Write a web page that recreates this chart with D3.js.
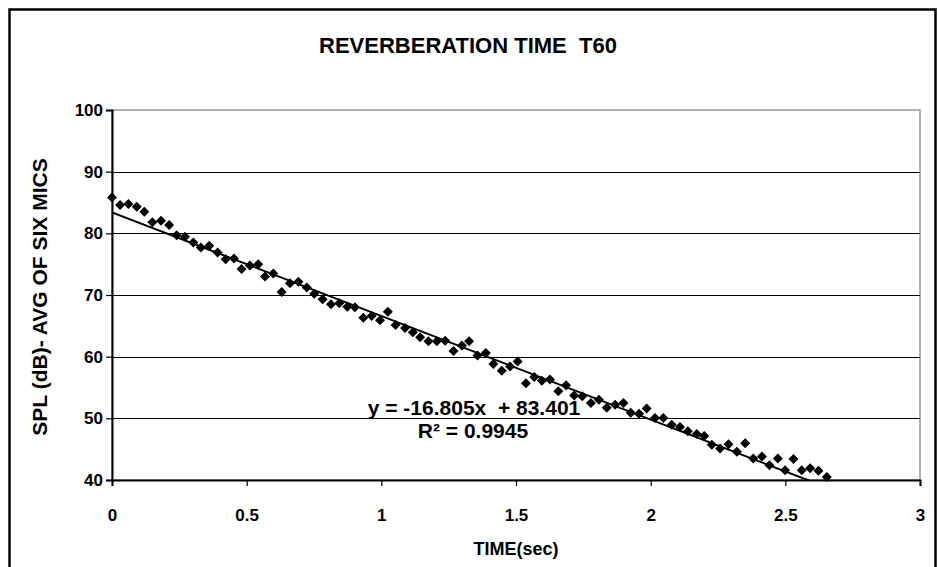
<!DOCTYPE html>
<html>
<head>
<meta charset="utf-8">
<script src="https://cdn.jsdelivr.net/npm/d3@7"></script>
<style>
  body { margin: 0; background: #fff; }
  text { font-family: "Liberation Sans", Arial, sans-serif; font-weight: bold; fill: #000; }
</style>
</head>
<body>
<div id="chart"></div>
<script>
// reverberation decay
const times = [
  0.000, 0.030, 0.061, 0.092, 0.120, 0.150, 0.182, 0.212, 0.240, 0.271,
  0.302, 0.330, 0.361, 0.392, 0.422, 0.453, 0.481, 0.512, 0.543, 0.568,
  0.599, 0.630, 0.661, 0.692, 0.723, 0.751, 0.782, 0.813, 0.844, 0.874,
  0.902, 0.933, 0.964, 0.995, 1.024, 1.053, 1.088, 1.117, 1.144, 1.175,
  1.206, 1.237, 1.268, 1.299, 1.326, 1.357, 1.388, 1.416, 1.447, 1.478,
  1.506, 1.537, 1.568, 1.596, 1.626, 1.657, 1.686, 1.716, 1.746, 1.778,
  1.808, 1.837, 1.868, 1.899, 1.926, 1.957, 1.985, 2.016, 2.047, 2.078,
  2.109, 2.138, 2.171, 2.199, 2.227, 2.258, 2.289, 2.320, 2.351, 2.381,
  2.413, 2.441, 2.472, 2.499, 2.530, 2.561, 2.592, 2.623, 2.654
];
const spl = [
  85.8, 84.6, 84.75, 84.3, 83.5, 81.8, 82.05, 81.35, 79.7, 79.45,
  78.5, 77.7, 78.0, 76.9, 75.8, 75.9, 74.2, 74.8, 75.0, 73.0,
  73.5, 70.5, 71.9, 72.15, 71.2, 70.2, 69.3, 68.5, 68.65, 68.1,
  68.0, 66.3, 66.6, 65.9, 67.3, 65.15, 64.65, 63.95, 63.15, 62.5,
  62.5, 62.6, 60.9, 61.8, 62.5, 60.2, 60.6, 58.8, 57.7, 58.4,
  59.2, 55.7, 56.7, 56.1, 56.3, 54.4, 55.35, 53.7, 53.6, 52.5,
  53.0, 51.7, 52.2, 52.5, 50.9, 50.75, 51.6, 50.05, 50.05, 48.97,
  48.6, 47.9, 47.46, 47.13, 45.7, 45.1, 45.8, 44.6, 45.95, 43.5,
  43.8, 42.4, 43.5, 41.6, 43.4, 41.6, 41.9, 41.5, 40.5
];
const xTicks = [0, 0.5, 1, 1.5, 2, 2.5, 3];
const yTicks = [40, 50, 60, 70, 80, 90, 100];
const slope = -16.805;
const intercept = 83.401;
const rSquared = 0.9945;

const width = 938;
const height = 567;

const svg = d3.select("#chart").append("svg")
    .attr("width", width)
    .attr("height", height)
    .style("display", "block");

// outer chart frame
svg.append("rect")
    .attr("x", 9.5)
    .attr("y", 9.5)
    .attr("width", 926)
    .attr("height", 620)
    .attr("fill", "#fff")
    .attr("stroke", "#000")
    .attr("stroke-width", 2.5);

const x = d3.scaleLinear().domain([0, 3]).range([112, 920]);
const y = d3.scaleLinear().domain([40, 100]).range([480, 110]);

svg.append("text")
    .attr("x", 468)
    .attr("y", 53)
    .attr("text-anchor", "middle")
    .style("font-size", "22px")
    .text("REVERBERATION TIME\u00a0\u00a0T60");

// plot area border (grey)
svg.append("rect")
    .attr("x", x(0))
    .attr("y", y(100))
    .attr("width", x(3) - x(0))
    .attr("height", y(40) - y(100))
    .attr("fill", "none")
    .attr("stroke", "#999")
    .attr("stroke-width", 1.5);

// gridlines
svg.append("g")
    .selectAll("line")
    .data(yTicks.filter(d => d > 40 && d < 100))
    .join("line")
    .attr("x1", x(0))
    .attr("x2", x(3))
    .attr("y1", d => Math.round(y(d)) + 0.5)
    .attr("y2", d => Math.round(y(d)) + 0.5)
    .attr("stroke", "#000")
    .attr("stroke-width", 1.2);

const xAxis = svg.append("g")
    .attr("transform", `translate(0,${y(40)})`)
    .call(d3.axisBottom(x).tickValues(xTicks).tickFormat(d3.format("")).tickSize(6).tickPadding(23));

const yAxis = svg.append("g")
    .attr("transform", `translate(${x(0)},0)`)
    .call(d3.axisLeft(y).tickValues(yTicks).tickSize(6).tickPadding(3));

[xAxis, yAxis].forEach(g => {
    g.select(".domain").attr("stroke", "#000").attr("stroke-width", 2);
    g.selectAll(".tick line").attr("stroke", "#000").attr("stroke-width", 1.2);
    g.selectAll(".tick text")
        .style("font-family", "'Liberation Sans', Arial, sans-serif")
        .style("font-weight", "bold")
        .style("font-size", "17px")
        .attr("fill", "#000");
});

svg.append("text")
    .attr("x", 516)
    .attr("y", 555)
    .attr("text-anchor", "middle")
    .style("font-size", "18px")
    .text("TIME(sec)");

svg.append("text")
    .attr("transform", `translate(47,${(y(40) + y(100)) / 2 + 2}) rotate(-90)`)
    .attr("text-anchor", "middle")
    .style("font-size", "21px")
    .text("SPL (dB)- AVG OF SIX MICS");

// linear trendline, clipped to the plot area
svg.append("clipPath")
    .attr("id", "plot-clip")
    .append("rect")
    .attr("x", x(0))
    .attr("y", y(100))
    .attr("width", x(3) - x(0))
    .attr("height", y(40) - y(100));

const tEnd = d3.max(times);
svg.append("line")
    .attr("clip-path", "url(#plot-clip)")
    .attr("x1", x(0))
    .attr("y1", y(intercept))
    .attr("x2", x(tEnd))
    .attr("y2", y(slope * tEnd + intercept))
    .attr("stroke", "#000")
    .attr("stroke-width", 2);

const points = times.map((t, i) => ({ t: t, v: spl[i] }));
const diamond = d3.symbol().type(d3.symbolSquare).size(50);

svg.append("g")
    .selectAll("path")
    .data(points)
    .join("path")
    .attr("d", diamond)
    .attr("transform", d => `translate(${x(d.t)},${y(d.v)}) rotate(45)`)
    .attr("fill", "#000");

svg.append("text")
    .attr("x", 474)
    .attr("y", 415)
    .attr("text-anchor", "middle")
    .style("font-size", "21px")
    .text(`y = ${slope}x\u00a0\u00a0+ ${intercept}`);

svg.append("text")
    .attr("x", 473)
    .attr("y", 438)
    .attr("text-anchor", "middle")
    .style("font-size", "21px")
    .text(`R² = ${rSquared}`);
</script>
</body>
</html>
